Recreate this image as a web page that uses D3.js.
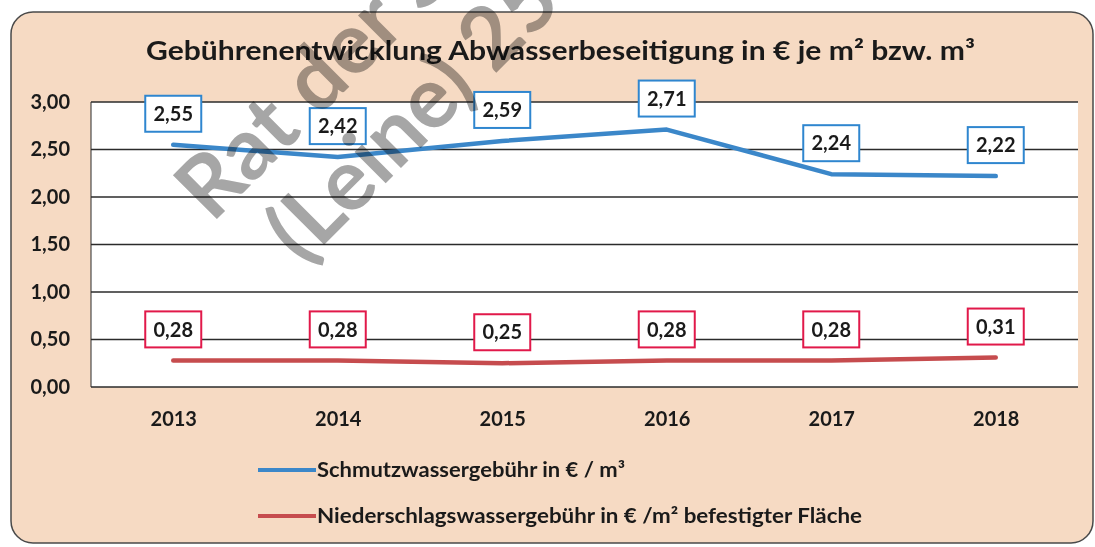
<!DOCTYPE html>
<html>
<head>
<meta charset="utf-8">
<script src="https://cdn.jsdelivr.net/npm/d3@7"></script>
<style>
  html, body { margin: 0; padding: 0; background: #fff; }
  svg { display: block; }
  text { font-family: Lato, 'Open Sans', sans-serif; font-weight: 700; fill: #1a1a1a; }
</style>
</head>
<body>
<div id="chart"></div>
<script>
const years = ['2013', '2014', '2015', '2016', '2017', '2018'];
const schmutzwasser = [2.55, 2.42, 2.59, 2.71, 2.24, 2.22];
const niederschlag = [0.28, 0.28, 0.25, 0.28, 0.28, 0.31];
const yTicks = [0, 0.5, 1, 1.5, 2, 2.5, 3];
const seriesNames = [
  'Schmutzwassergebühr in € / m³',
  'Niederschlagswassergebühr in € /m² befestigter Fläche',
];
const title = 'Gebührenentwicklung Abwasserbeseitigung in € je m² bzw. m³';
const stamp = ['Rat der S', '(Leine) 25.'];

const width = 1095, height = 547;
const plot = {left: 91, right: 1078, top: 102, bottom: 387};

const de = d3.formatLocale({decimal: ',', thousands: '.', grouping: [3], currency: ['', ' €']});
const fmt = de.format('.2f');

const series = [
  {name: seriesNames[0], values: schmutzwasser, line: '#3b87c9', box: '#2f86cf'},
  {name: seriesNames[1], values: niederschlag, line: '#c64c4e', box: '#e1194a'},
];

const x = d3.scalePoint().domain(years).range([plot.left, plot.right]).padding(0.5);
const y = d3.scaleLinear().domain([0, 3]).range([plot.bottom, plot.top]);

const svg = d3.select('#chart')
  .append('svg')
    .attr('width', width)
    .attr('height', height);

// peach panel
svg.append('rect')
  .attr('x', 11)
  .attr('y', 12)
  .attr('width', 1082)
  .attr('height', 531)
  .attr('rx', 22)
  .attr('fill', '#f6dac3')
  .attr('stroke', '#4a4a4a')
  .attr('stroke-width', 1.5);

svg.append('text')
  .attr('x', 146)
  .attr('y', 60)
  .attr('font-size', 26)
  .attr('textLength', 829)
  .attr('lengthAdjust', 'spacingAndGlyphs')
  .text(title);

// plot area
svg.append('rect')
  .attr('x', plot.left)
  .attr('y', plot.top)
  .attr('width', plot.right - plot.left)
  .attr('height', plot.bottom - plot.top)
  .attr('fill', '#fff');

svg.append('g')
  .selectAll('line')
  .data(yTicks)
  .join('line')
    .attr('x1', plot.left)
    .attr('x2', plot.right)
    .attr('y1', d => y(d))
    .attr('y2', d => y(d))
    .attr('stroke', '#2b2b2b')
    .attr('stroke-width', 1.4);

svg.append('line')
  .attr('x1', plot.left)
  .attr('x2', plot.left)
  .attr('y1', plot.top)
  .attr('y2', plot.bottom)
  .attr('stroke', '#2b2b2b')
  .attr('stroke-width', 1);

const yAxis = svg.append('g')
  .attr('transform', `translate(${plot.left - 21},0)`)
  .call(d3.axisLeft(y).tickValues(yTicks).tickFormat(fmt).tickSize(0).tickPadding(0));
yAxis.select('.domain').remove();
yAxis.selectAll('text')
  .attr('font-size', 20)
  .attr('font-family', null)
  .attr('fill', '#1a1a1a');

const xAxis = svg.append('g')
  .attr('transform', `translate(0,${plot.bottom + 25})`)
  .call(d3.axisBottom(x).tickSize(0).tickPadding(0));
xAxis.select('.domain').remove();
xAxis.selectAll('text')
  .attr('font-size', 20)
  .attr('font-family', null)
  .attr('fill', '#1a1a1a');

const line = d3.line()
  .x((d, i) => x(years[i]))
  .y(d => y(d));

for (const s of series) {
  svg.append('path')
    .attr('d', line(s.values))
    .attr('fill', 'none')
    .attr('stroke', s.line)
    .attr('stroke-width', 4.5)
    .attr('stroke-linecap', 'round')
    .attr('stroke-linejoin', 'round');
}

// data label boxes
for (const s of series) {
  const labels = svg.append('g')
    .selectAll('g')
    .data(s.values)
    .join('g')
      .attr('transform', (d, i) => `translate(${x(years[i])},${y(d) - 31})`);
  labels.append('rect')
    .attr('x', -28)
    .attr('y', -18)
    .attr('width', 56)
    .attr('height', 36)
    .attr('fill', '#fff')
    .attr('stroke', s.box)
    .attr('stroke-width', 2);
  labels.append('text')
    .attr('text-anchor', 'middle')
    .attr('dy', '0.36em')
    .attr('font-size', 20)
    .text(d => fmt(d));
}

// legend
const legendTargets = [308, 545];
const legend = svg.append('g')
  .selectAll('g')
  .data(series)
  .join('g')
    .attr('transform', (d, i) => `translate(258,${470 + i * 46})`);
legend.append('line')
  .attr('x1', 0)
  .attr('x2', 58)
  .attr('stroke', d => d.line)
  .attr('stroke-width', 4);
legend.append('text')
  .attr('x', 59)
  .attr('dy', '0.36em')
  .attr('font-size', 20)
  .attr('textLength', (d, i) => legendTargets[i])
  .attr('lengthAdjust', 'spacingAndGlyphs')
  .text(d => d.name);

// stamp across the chart
const stampG = svg.append('g')
  .attr('transform', 'translate(212,224) rotate(-45)')
  .style('mix-blend-mode', 'multiply');
stampG.selectAll('text')
  .data(stamp)
  .join('text')
    .attr('x', (d, i) => i * 34)
    .attr('y', (d, i) => i * 94)
    .attr('font-family', "'Liberation Sans', Arial, sans-serif")
    .attr('font-size', 86)
    .style('fill', '#a6a6a6')
    .text(d => d);
</script>
</body>
</html>
